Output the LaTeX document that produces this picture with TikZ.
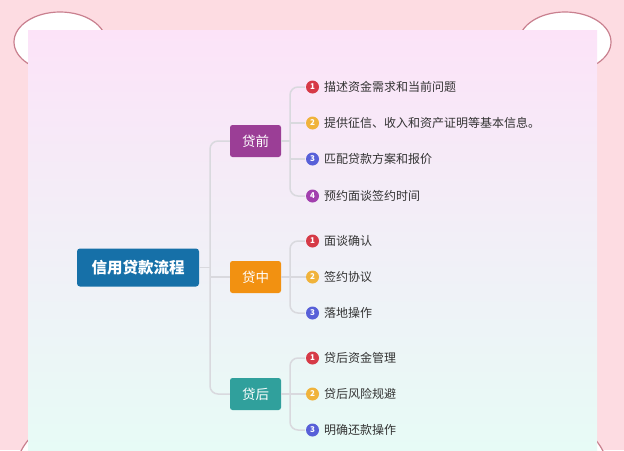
\documentclass[tikz,border=0pt]{standalone}
\usepackage{fontspec}
\setmainfont{Noto Sans CJK SC}
\usetikzlibrary{calc}
\definecolor{bgpink}{RGB}{253,220,226}
\definecolor{earline}{RGB}{201,128,143}
\definecolor{ptop}{RGB}{252,227,248}
\definecolor{pmid}{RGB}{242,238,250}
\definecolor{pbot}{RGB}{231,251,246}
\definecolor{rootc}{RGB}{22,112,168}
\definecolor{prec}{RGB}{155,62,150}
\definecolor{midc}{RGB}{242,145,17}
\definecolor{postc}{RGB}{48,160,156}
\definecolor{n1}{RGB}{214,58,71}
\definecolor{n2}{RGB}{240,179,59}
\definecolor{n3}{RGB}{88,96,216}
\definecolor{n4}{RGB}{162,63,174}
\definecolor{connc}{RGB}{217,217,222}
\definecolor{leaftext}{RGB}{51,51,51}
\begin{document}
\begin{tikzpicture}[x=1pt,y=-1pt,
  ear/.style={draw=earline,fill=white,line width=1.2pt},
  rootbox/.style={fill=rootc,text=white,rounded corners=3pt,minimum width=122pt,minimum height=38pt,inner sep=0pt,font=\fontsize{15.5}{16}\selectfont\bfseries},
  branchbox/.style={rounded corners=2.5pt,text=white,minimum width=51pt,minimum height=32pt,inner sep=0pt,font=\fontsize{13.5}{14}\selectfont},
  numdot/.style={circle,minimum size=13pt,inner sep=0pt,text=white,font=\fontsize{8}{8}\selectfont\bfseries},
  leaf/.style={anchor=west,inner sep=0pt,text=leaftext,font=\fontsize{12}{12}\selectfont},
  conn/.style={draw=connc,line width=1.5pt,rounded corners=8pt}
]
\useasboundingbox (0,0) rectangle (624,450);
\fill[bgpink] (0,0) rectangle (624,450);
% ears
\draw[ear] (60,42) ellipse [x radius=46, y radius=30];
\draw[ear] (565,42) ellipse [x radius=46, y radius=30];
\draw[ear] (70,480) ellipse [x radius=56, y radius=60];
\draw[ear] (554,480) ellipse [x radius=56, y radius=60];
% panel
\shade[top color=ptop,middle color=pmid,bottom color=pbot] (28,30) rectangle (597,450);
% nodes
\node[rootbox] (root) at (138,267.5) {信用贷款流程};
\node[branchbox,fill=prec] (b1) at (255.5,141) {贷前};
\node[branchbox,fill=midc] (b2) at (255.5,277) {贷中};
\node[branchbox,fill=postc] (b3) at (255.5,394) {贷后};
\coordinate (rt) at (210,268);
\coordinate (lt) at (290,0);
% leaves of b1
\node[numdot,fill=n1] (c11) at (312.5,87) {1};
\node[numdot,fill=n2] (c12) at (312.5,123) {2};
\node[numdot,fill=n3] (c13) at (312.5,159) {3};
\node[numdot,fill=n4] (c14) at (312.5,196) {4};
\node[leaf] (t11) at (324,87) {描述资金需求和当前问题};
\node[leaf] (t12) at (324,123) {提供征信、收入和资产证明等基本信息。};
\node[leaf] (t13) at (324,159) {匹配贷款方案和报价};
\node[leaf] (t14) at (324,196) {预约面谈签约时间};
% leaves of b2
\node[numdot,fill=n1] (c21) at (312.5,241) {1};
\node[numdot,fill=n2] (c22) at (312.5,277) {2};
\node[numdot,fill=n3] (c23) at (312.5,313) {3};
\node[leaf] (t21) at (324,241) {面谈确认};
\node[leaf] (t22) at (324,277) {签约协议};
\node[leaf] (t23) at (324,313) {落地操作};
% leaves of b3
\node[numdot,fill=n1] (c31) at (312.5,358) {1};
\node[numdot,fill=n2] (c32) at (312.5,394) {2};
\node[numdot,fill=n3] (c33) at (312.5,430) {3};
\node[leaf] (t31) at (324,358) {贷后资金管理};
\node[leaf] (t32) at (324,394) {贷后风险规避};
\node[leaf] (t33) at (324,430) {明确还款操作};
% root connectors
\begin{scope}[on background layer/.style={}]
\draw[conn] (root.east) -- (root.east -| rt);
\draw[conn] (b1.west) -- (b1.west -| rt) -- (b3.west -| rt) -- (b3.west);
\draw[conn] (b2.west -| rt) -- (b2.west);
% b1 connectors
\draw[conn] (b1.east) -- (b1.east -| lt);
\draw[conn] ([xshift=-1pt]c11.west) -- (c11.west -| lt) -- (c14.west -| lt) -- ([xshift=-1pt]c14.west);
\draw[conn] (c12.west -| lt) -- ([xshift=-1pt]c12.west);
\draw[conn] (c13.west -| lt) -- ([xshift=-1pt]c13.west);
% b2 connectors
\draw[conn] (b2.east) -- (c22.west);
\draw[conn] ([xshift=-1pt]c21.west) -- (c21.west -| lt) -- (c23.west -| lt) -- ([xshift=-1pt]c23.west);
% b3 connectors
\draw[conn] (b3.east) -- (c32.west);
\draw[conn] ([xshift=-1pt]c31.west) -- (c31.west -| lt) -- (c33.west -| lt) -- ([xshift=-1pt]c33.west);
\end{scope}
\end{tikzpicture}
\end{document}
